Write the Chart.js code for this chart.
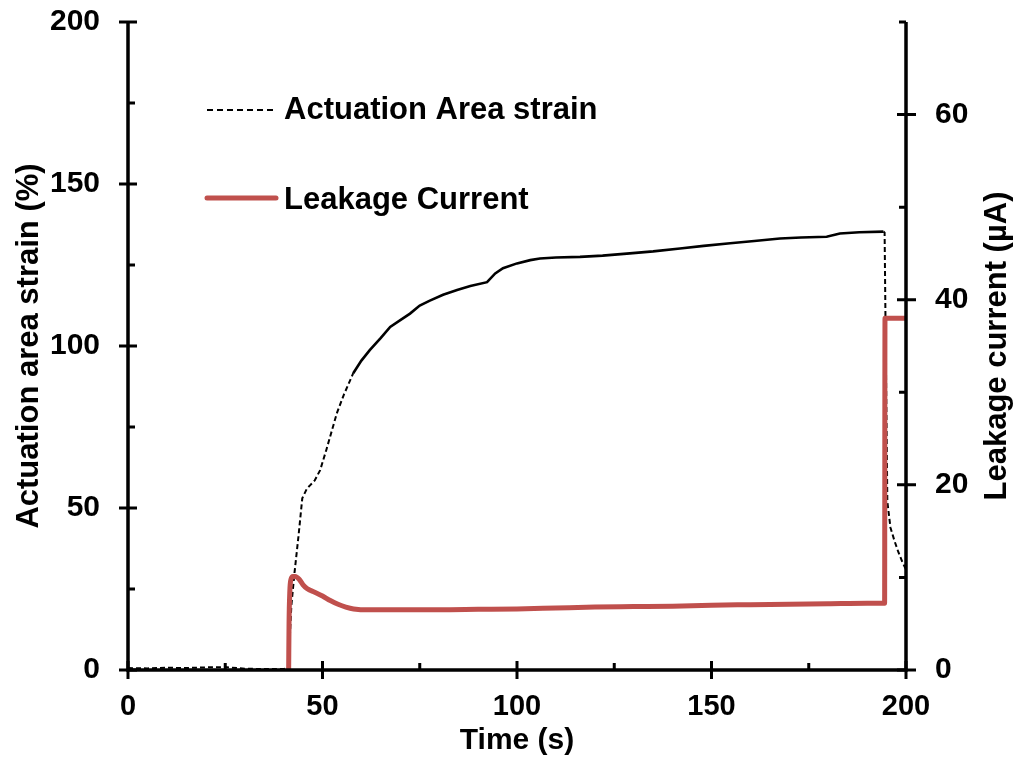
<!DOCTYPE html>
<html>
<head>
<meta charset="utf-8">
<script src="https://cdn.jsdelivr.net/npm/chart.js@4/dist/chart.umd.min.js"></script>
<style>
html,body{margin:0;padding:0;background:#fff;}
canvas{display:block;}
</style>
</head>
<body>
<canvas id="c" width="1018" height="772"></canvas>
<script>
// ---- data ----
const strainTime = [0, 5, 10, 15, 20, 25, 30, 35, 40, 41.2, 42, 42.8, 43.8, 44.8, 46, 46.8, 48, 49.4, 51, 53.7, 55.5, 57.9, 60, 62.2, 65, 67.4, 70, 72.5, 75, 77.6, 81, 84.6, 88, 92.3, 94.4, 96.4, 100, 103.4, 105.9, 110, 116.2, 122, 129, 135, 141.9, 148, 154.8, 161, 167.6, 173, 179.6, 183, 188, 194.2, 194.5, 195.2, 196, 197, 198, 199, 200];
const strainValues = [0.6, 0.5, 0.7, 0.6, 0.8, 0.9, 0.4, 0.3, 0.3, 0.5, 20, 30, 41, 53, 56, 57, 58.5, 61.7, 68, 79.3, 85, 91.6, 95.5, 98.8, 102.5, 105.9, 108, 110, 112.5, 114, 115.8, 117.3, 118.5, 119.7, 122.4, 124, 125.5, 126.5, 127, 127.3, 127.5, 127.9, 128.6, 129.2, 130.1, 130.9, 131.7, 132.4, 133.2, 133.5, 133.7, 134.7, 135.1, 135.3, 135, 52, 44, 40, 36.5, 33.5, 31];
const currentTime = [41.3, 41.4, 41.6, 41.9, 42.4, 43, 44, 45, 46, 48, 50, 52, 54, 56, 58, 62, 70, 80, 90, 100, 110, 120, 130, 140, 150, 160, 170, 180, 190, 194.5, 194.6, 200];
const currentValues = [0, 5, 8.5, 9.8, 10.1, 10.1, 9.8, 9.2, 8.8, 8.4, 8.0, 7.5, 7.1, 6.8, 6.6, 6.5, 6.5, 6.5, 6.55, 6.6, 6.7, 6.8, 6.85, 6.9, 7.0, 7.05, 7.1, 7.15, 7.2, 7.2, 38, 38];
const xTicks = {min: 0, max: 200, step: 50};
const yLeftTicks = {min: 0, max: 200, step: 50};
const yRightTicks = {min: 0, max: 70, step: 20};
const labels = {
  x: 'Time (s)',
  yLeft: 'Actuation area strain (%)',
  yRight: 'Leakage current (\u00b5A)',
  strain: 'Actuation Area strain',
  current: 'Leakage Current'
};

// ---- styles ----
const FONT = "'Liberation Sans', Arial, Helvetica, sans-serif";
const RED = '#C0504D';

const toXY = (xs, ys) => xs.map((x, i) => ({x: x, y: ys[i]}));

const axesPlugin = {
  id: 'axesPlugin',
  afterDatasetsDraw(chart) {
    const {ctx, chartArea} = chart;
    const {left, right, top, bottom} = chartArea;
    const sx = chart.scales.x, sy = chart.scales.y, sy1 = chart.scales.y1;
    ctx.save();
    ctx.strokeStyle = '#000';
    ctx.lineCap = 'butt';
    ctx.lineWidth = 3.5;
    ctx.beginPath();
    ctx.moveTo(left, top); ctx.lineTo(left, bottom + 1.75);
    ctx.moveTo(right, top); ctx.lineTo(right, bottom + 1.75);
    ctx.moveTo(left - 1.75, bottom); ctx.lineTo(right + 1.75, bottom);
    ctx.stroke();
    ctx.lineWidth = 3;
    ctx.beginPath();
    const xs = xTicks.step;
    for (let v = xTicks.min; v <= xTicks.max + 1e-9; v += xs) {
      const p = sx.getPixelForValue(v);
      ctx.moveTo(p, bottom - 9); ctx.lineTo(p, bottom + 9);
      if (v + xs / 2 < xTicks.max) {
        const m = sx.getPixelForValue(v + xs / 2);
        ctx.moveTo(m, bottom - 7); ctx.lineTo(m, bottom);
      }
    }
    const ys = yLeftTicks.step;
    for (let v = yLeftTicks.min; v <= yLeftTicks.max + 1e-9; v += ys) {
      const p = sy.getPixelForValue(v);
      ctx.moveTo(left - 9, p); ctx.lineTo(left + 9, p);
      if (v + ys / 2 < yLeftTicks.max) {
        const m = sy.getPixelForValue(v + ys / 2);
        ctx.moveTo(left, m); ctx.lineTo(left + 7, m);
      }
    }
    const rs = yRightTicks.step;
    for (let v = yRightTicks.min; v <= yRightTicks.max + 1e-9; v += rs) {
      const p = sy1.getPixelForValue(v);
      ctx.moveTo(right - 9, p); ctx.lineTo(right + 10, p);
      if (v + rs / 2 <= yRightTicks.max) {
        const m = sy1.getPixelForValue(v + rs / 2);
        ctx.moveTo(right - 7, m); ctx.lineTo(right, m);
      }
    }
    ctx.stroke();
    ctx.restore();
  },
  afterDraw(chart) {
    const {ctx, chartArea} = chart;
    ctx.save();
    ctx.fillStyle = '#000';
    ctx.font = 'bold 31px ' + FONT;
    ctx.textAlign = 'center';
    ctx.textBaseline = 'middle';
    ctx.translate(997, (chartArea.top + chartArea.bottom) / 2);
    ctx.rotate(-Math.PI / 2);
    ctx.fillText(labels.yRight, 0, 0);
    ctx.restore();

    const ds = chart.data.datasets;
    ctx.save();
    ctx.font = 'bold 31px ' + FONT;
    ctx.fillStyle = '#000';
    ctx.textAlign = 'left';
    ctx.textBaseline = 'middle';
    ctx.strokeStyle = ds[0].borderColor;
    ctx.lineWidth = 2;
    ctx.setLineDash([6, 4]);
    ctx.beginPath(); ctx.moveTo(207, 110); ctx.lineTo(277, 110); ctx.stroke();
    ctx.setLineDash([]);
    ctx.fillText(ds[0].label, 284, 110);
    ctx.strokeStyle = ds[1].borderColor;
    ctx.lineWidth = 5;
    ctx.lineCap = 'round';
    ctx.beginPath(); ctx.moveTo(207, 198); ctx.lineTo(276, 198); ctx.stroke();
    ctx.fillText(ds[1].label, 284, 200);
    ctx.restore();
  }
};

const inSolid = (c) => c.p0.parsed.x >= 56 && c.p1.parsed.x <= 194.3;

new Chart(document.getElementById('c'), {
  type: 'line',
  data: {
    datasets: [
      {
        label: labels.strain,
        data: toXY(strainTime, strainValues),
        yAxisID: 'y',
        borderColor: '#000',
        borderWidth: 2,
        borderDash: [5, 3],
        pointRadius: 0,
        tension: 0,
        segment: {
          borderDash: c => inSolid(c) ? [] : [5, 3],
          borderWidth: c => inSolid(c) ? 2.6 : 2
        },
        order: 2
      },
      {
        label: labels.current,
        data: toXY(currentTime, currentValues),
        yAxisID: 'y1',
        borderColor: RED,
        borderWidth: 5,
        pointRadius: 0,
        cubicInterpolationMode: 'monotone',
        borderJoinStyle: 'round',
        order: 1
      }
    ]
  },
  options: {
    responsive: false,
    animation: false,
    devicePixelRatio: 1,
    layout: {padding: {top: 22, left: 0, right: 0, bottom: 0}},
    plugins: {legend: {display: false}, tooltip: {enabled: false}},
    scales: {
      x: {
        type: 'linear',
        min: xTicks.min, max: xTicks.max,
        grid: {display: false, drawTicks: false},
        border: {display: false},
        ticks: {stepSize: xTicks.step, color: '#000', padding: 20, font: {family: FONT, size: 29, weight: 'bold'}},
        title: {display: true, text: labels.x, color: '#000', font: {family: FONT, size: 30, weight: 'bold', lineHeight: 1.2}, padding: {top: 0, bottom: 13}},
        afterFit: s => { s.height = 102; s.paddingLeft = 0; s.paddingRight = 0; }
      },
      y: {
        type: 'linear', position: 'left',
        min: yLeftTicks.min, max: yLeftTicks.max,
        grid: {display: false, drawTicks: false},
        border: {display: false},
        ticks: {stepSize: yLeftTicks.step, color: '#000', padding: 28, font: {family: FONT, size: 30, weight: 'bold'}},
        title: {display: true, text: labels.yLeft, color: '#000', font: {family: FONT, size: 31, weight: 'bold', lineHeight: 1.2}, padding: {top: 11, bottom: 0}},
        afterFit: s => { s.width = 128; s.paddingTop = 0; s.paddingBottom = 0; }
      },
      y1: {
        type: 'linear', position: 'right',
        min: yRightTicks.min, max: yRightTicks.max,
        grid: {display: false, drawTicks: false},
        border: {display: false},
        ticks: {stepSize: yRightTicks.step, includeBounds: false, color: '#000', padding: 29, font: {family: FONT, size: 30, weight: 'bold'}},
        afterFit: s => { s.width = 112; s.paddingTop = 0; s.paddingBottom = 0; }
      }
    }
  },
  plugins: [axesPlugin]
});
</script>
</body>
</html>
